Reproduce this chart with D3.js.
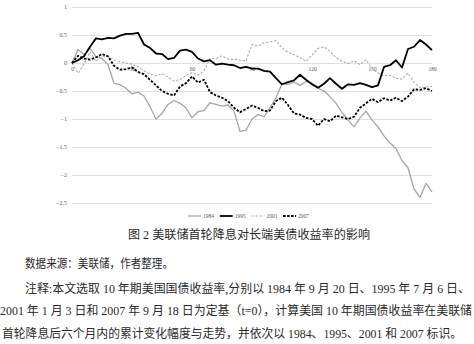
<!DOCTYPE html>
<html>
<head>
<meta charset="utf-8">
<script src="https://cdn.jsdelivr.net/npm/d3@7/dist/d3.min.js"></script>
<style>
html, body { margin: 0; padding: 0; background: #fff; }
svg { display: block; }
</style>
</head>
<body>
<div id="chart"></div>
<script>
// days after the first cut (t=0), one reading every 3 days
const days = [0, 3, 6, 9, 12, 15, 18, 21, 24, 27, 30, 33, 36, 39, 42, 45, 48, 51, 54, 57,
    60, 63, 66, 69, 72, 75, 78, 81, 84, 87, 90, 93, 96, 99, 102, 105, 108, 111, 114, 117,
    120, 123, 126, 129, 132, 135, 138, 141, 144, 147, 150, 153, 156, 159, 162, 165, 168, 171, 174, 177, 180];

const s1984 = [0, 0.24, 0.15, 0.26, 0.12, 0.08, -0.03, -0.36, -0.39, -0.45,
    -0.55, -0.52, -0.59, -0.78, -1.0, -0.9, -0.74, -0.67, -0.72, -0.8,
    -0.98, -0.87, -0.85, -0.71, -0.74, -0.77, -0.75, -0.86, -1.22, -1.2,
    -1.0, -0.92, -0.96, -0.8, -0.62, -0.37, -0.38, -0.34, -0.4, -0.33,
    -0.36, -0.45, -0.5, -0.6, -0.72, -0.88, -1.02, -1.14, -0.98, -0.86,
    -1.02, -1.14, -1.3, -1.43, -1.53, -1.74, -1.87, -2.25, -2.4, -2.15,
    -2.3];

const s1995 = [0, 0.05, 0.12, 0.29, 0.44, 0.42, 0.45, 0.44, 0.49, 0.52,
    0.52, 0.54, 0.33, 0.27, 0.17, 0.16, 0.07, 0.09, 0.22, 0.24,
    0.2, 0.08, 0.03, 0.05, -0.03, -0.01, -0.03, -0.04, -0.09, -0.07,
    -0.1, -0.1, -0.14, -0.155, -0.27, -0.38, -0.34, -0.31, -0.21, -0.3,
    -0.38, -0.44, -0.37, -0.27, -0.37, -0.46, -0.38, -0.39, -0.36, -0.39,
    -0.43, -0.4, -0.07, -0.04, 0.05, -0.08, 0.25, 0.29, 0.41, 0.33,
    0.23];

const s2001 = [0, -0.18, -0.02, 0.2, 0.03, 0.12, 0.11, 0.06, 0.02, 0.0,
    -0.02, -0.07, -0.14, -0.2, -0.23, -0.19, -0.25, -0.32, -0.3, -0.22,
    -0.17, -0.22, -0.14, 0.08, 0.08, 0.13, 0.07, 0.07, 0.05, 0.04,
    0.33, 0.3, 0.36, 0.38, 0.4, 0.27, 0.19, 0.15, 0.1, 0.03,
    0.14, 0.26, 0.29, 0.21, 0.1, 0.03, -0.01, 0.04, -0.03, 0.06,
    -0.1, -0.18, -0.23, -0.22, -0.27, -0.29, -0.18, -0.34, -0.44, -0.43,
    -0.42];

const s2007 = [0, 0.13, 0.08, 0.06, 0.1, 0.16, 0.12, -0.05, -0.12, -0.11,
    -0.08, -0.16, -0.2, -0.3, -0.4, -0.5, -0.55, -0.58, -0.42, -0.36,
    -0.24, -0.35, -0.3, -0.52, -0.58, -0.62, -0.68, -0.8, -0.88, -0.82,
    -0.76, -0.8, -0.86, -0.85, -0.68, -0.62, -0.75, -0.9, -0.92, -0.98,
    -1.0, -1.12, -1.0, -1.04, -0.94, -0.97, -1.0, -0.96, -0.8, -0.72,
    -0.64, -0.7, -0.63, -0.67, -0.62, -0.68, -0.6, -0.47, -0.48, -0.45,
    -0.5];

const seriesNames = ["1984", "1995", "2001", "2007"];
const yTicks = [1, 0.5, 0, -0.5, -1, -1.5, -2, -2.5];
const xTicks = [0, 30, 60, 90, 120, 150, 180];

const title = "图 2 美联储首轮降息对长端美债收益率的影响";
const notes = [
    "数据来源：美联储，作者整理。",
    "注释:本文选取 10 年期美国国债收益率,分别以 1984 年 9 月 20 日、1995 年 7 月 6 日、",
    "2001 年 1 月 3 日和 2007 年 9 月 18 日为定基（t=0），计算美国 10 年期国债收益率在美联储",
    "首轮降息后六个月内的累计变化幅度与走势，并依次以 1984、1995、2001 和 2007 标识。"
];

const W = 474, H = 344;
const svg = d3.select("#chart").append("svg")
    .attr("width", W)
    .attr("height", H);

const x = d3.scaleLinear().domain([0, 180]).range([72, 432]);
const y = d3.scaleLinear().domain([-2.5, 1]).range([203, 7]);

const styles = {
    "1984": {stroke: "#a6a6a6", width: 1.3, dash: null},
    "1995": {stroke: "#000", width: 1.8, dash: null},
    "2001": {stroke: "#b0b0b0", width: 1.1, dash: "2.5,1.5"},
    "2007": {stroke: "#000", width: 1.8, dash: "2.5,1.5"}
};

// grid + y labels
const yAxis = svg.append("g")
    .attr("transform", `translate(${x(0)},0)`)
    .call(d3.axisLeft(y).tickValues(yTicks).tickSizeInner(-(x(180) - x(0))).tickSizeOuter(0).tickPadding(5)
        .tickFormat(d3.format("")));
yAxis.select(".domain").remove();
yAxis.selectAll("line").attr("stroke", "#d9d9d9").attr("stroke-width", 0.8);
yAxis.selectAll("text")
    .attr("fill", "#595959")
    .style("font-family", "'Liberation Serif', serif")
    .style("font-size", "6px");

// x labels sit under the zero line
const xAxis = svg.append("g")
    .attr("transform", `translate(0,${y(0)})`)
    .call(d3.axisBottom(x).tickValues(xTicks).tickSize(0).tickPadding(4));
xAxis.select(".domain").remove();
xAxis.selectAll("text")
    .attr("fill", "#595959")
    .style("font-family", "'Liberation Serif', serif")
    .style("font-size", "5.5px");

const line = d3.line()
    .x((d, i) => x(days[i]))
    .y(d => y(d));

const seriesData = {"1984": s1984, "1995": s1995, "2001": s2001, "2007": s2007};

["1984", "2001", "1995", "2007"].forEach(name => {
    const st = styles[name];
    svg.append("path")
        .datum(seriesData[name])
        .attr("fill", "none")
        .attr("stroke", st.stroke)
        .attr("stroke-width", st.width)
        .attr("stroke-dasharray", st.dash)
        .attr("stroke-linejoin", "round")
        .attr("d", line);
});

// legend
const legend = svg.append("g").attr("transform", "translate(188,216)");
seriesNames.forEach((name, i) => {
    const st = styles[name];
    const g = legend.append("g").attr("transform", `translate(${i * 31.7},0)`);
    g.append("line")
        .attr("x1", 0).attr("x2", 13)
        .attr("stroke", st.stroke)
        .attr("stroke-width", st.width)
        .attr("stroke-dasharray", st.dash);
    g.append("text")
        .attr("x", 15).attr("y", 2)
        .attr("fill", "#595959")
        .style("font-family", "'Liberation Serif', serif")
        .style("font-size", "5.5px")
        .text(name);
});

const textFont = "'Liberation Serif', 'Noto Sans CJK SC', serif";

svg.append("text")
    .attr("x", 128).attr("y", 238.5)
    .attr("textLength", 242).attr("lengthAdjust", "spacingAndGlyphs")
    .attr("fill", "#2a2a2a")
    .style("font-family", textFont)
    .style("font-size", "12px")
    .text(title);

const noteLayout = [
    {x: 25, y: 268, len: 148},
    {x: 25, y: 292.5, len: 445},
    {x: 0, y: 315, len: 472},
    {x: 2, y: 338, len: 460}
];
notes.forEach((t, i) => {
    const p = noteLayout[i];
    svg.append("text")
        .attr("x", p.x).attr("y", p.y)
        .attr("textLength", p.len).attr("lengthAdjust", "spacingAndGlyphs")
        .attr("fill", "#2a2a2a")
        .style("font-family", textFont)
        .style("font-size", "12px")
        .text(t);
});
</script>
</body>
</html>
